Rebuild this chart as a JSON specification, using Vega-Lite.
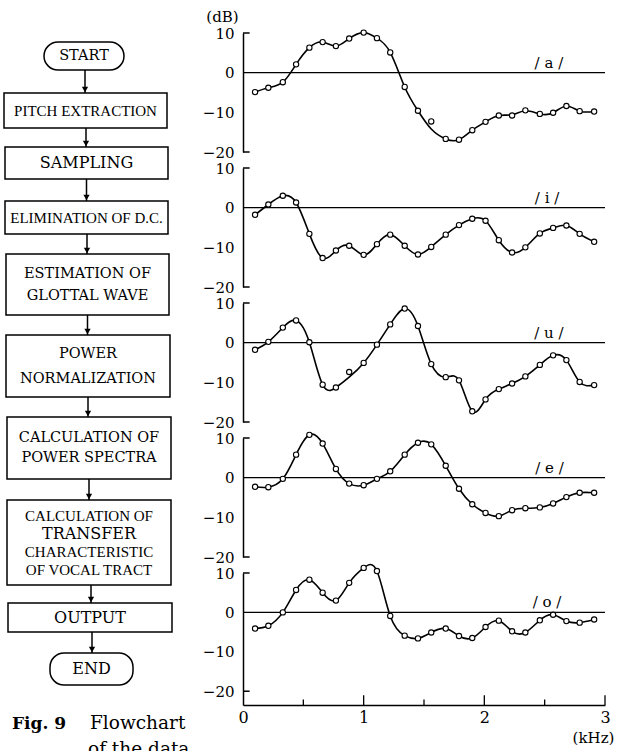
{
 "$schema": "https://vega.github.io/schema/vega-lite/v6.json",
 "padding": {"top": 9, "left": 0, "right": 0, "bottom": 0},
 "spacing": 2,
 "background": "white",
 "config": {
  "view": {"stroke": null},
  "axis": {"domainColor": "black", "domainWidth": 1.5, "ticks": false, "grid": false, "labelColor": "black", "labelFont": "DejaVu Serif", "labelFontSize": 15, "labelPadding": 9, "labelOverlap": false, "titleFontWeight": "normal", "titleColor": "black", "titleFont": "DejaVu Serif"}
 },
 "datasets": {
  "spec": [
   {"v":"a","f":0.10,"db":-4.9,"fit":-4.9},{"v":"a","f":0.21,"db":-3.8,"fit":-3.8},{"v":"a","f":0.33,"db":-2.4,"fit":-2.4},{"v":"a","f":0.44,"db":2.1,"fit":2.1},{"v":"a","f":0.55,"db":6.3,"fit":6.3},{"v":"a","f":0.66,"db":7.7,"fit":7.7},{"v":"a","f":0.77,"db":6.7,"fit":6.7},{"v":"a","f":0.88,"db":8.6,"fit":8.6},{"v":"a","f":1.00,"db":10.1,"fit":10.1},{"v":"a","f":1.11,"db":8.7,"fit":8.7},{"v":"a","f":1.22,"db":5.1,"fit":5.1},{"v":"a","f":1.34,"db":-3.6,"fit":-3.6},{"v":"a","f":1.45,"db":-9.6,"fit":-9.6},{"v":"a","f":1.56,"db":-12.3,"fit":-14.2},{"v":"a","f":1.68,"db":-16.7,"fit":-16.7},{"v":"a","f":1.79,"db":-16.9,"fit":-16.9},{"v":"a","f":1.90,"db":-14.5,"fit":-14.5},{"v":"a","f":2.01,"db":-12.4,"fit":-12.4},{"v":"a","f":2.12,"db":-10.8,"fit":-10.8},{"v":"a","f":2.23,"db":-10.8,"fit":-10.6},{"v":"a","f":2.34,"db":-9.5,"fit":-9.6},{"v":"a","f":2.46,"db":-10.4,"fit":-10.4},{"v":"a","f":2.57,"db":-10.1,"fit":-10.1},{"v":"a","f":2.68,"db":-8.4,"fit":-8.4},{"v":"a","f":2.79,"db":-9.7,"fit":-9.7},{"v":"a","f":2.91,"db":-9.8,"fit":-9.8},
   {"v":"i","f":0.10,"db":-1.8,"fit":-1.8},{"v":"i","f":0.21,"db":0.8,"fit":0.8},{"v":"i","f":0.33,"db":3.0,"fit":3.0},{"v":"i","f":0.44,"db":1.3,"fit":1.3},{"v":"i","f":0.55,"db":-6.6,"fit":-6.6},{"v":"i","f":0.66,"db":-12.7,"fit":-12.7},{"v":"i","f":0.77,"db":-10.8,"fit":-10.8},{"v":"i","f":0.88,"db":-9.6,"fit":-9.6},{"v":"i","f":1.00,"db":-11.9,"fit":-11.9},{"v":"i","f":1.11,"db":-9.2,"fit":-9.2},{"v":"i","f":1.22,"db":-6.8,"fit":-6.8},{"v":"i","f":1.34,"db":-9.6,"fit":-9.6},{"v":"i","f":1.45,"db":-11.8,"fit":-11.8},{"v":"i","f":1.56,"db":-9.9,"fit":-9.9},{"v":"i","f":1.68,"db":-6.8,"fit":-6.8},{"v":"i","f":1.79,"db":-4.4,"fit":-4.4},{"v":"i","f":1.90,"db":-2.8,"fit":-2.8},{"v":"i","f":2.01,"db":-3.3,"fit":-3.3},{"v":"i","f":2.12,"db":-8.2,"fit":-8.2},{"v":"i","f":2.23,"db":-11.3,"fit":-11.3},{"v":"i","f":2.34,"db":-10.0,"fit":-10.0},{"v":"i","f":2.46,"db":-6.5,"fit":-6.5},{"v":"i","f":2.57,"db":-5.1,"fit":-5.1},{"v":"i","f":2.68,"db":-4.5,"fit":-4.5},{"v":"i","f":2.79,"db":-6.6,"fit":-6.6},{"v":"i","f":2.91,"db":-8.6,"fit":-8.6},
   {"v":"u","f":0.10,"db":-1.8,"fit":-1.8},{"v":"u","f":0.21,"db":0.2,"fit":0.2},{"v":"u","f":0.33,"db":3.8,"fit":3.8},{"v":"u","f":0.44,"db":5.6,"fit":5.6},{"v":"u","f":0.55,"db":0.1,"fit":0.1},{"v":"u","f":0.66,"db":-10.6,"fit":-10.6},{"v":"u","f":0.77,"db":-11.3,"fit":-11.3},{"v":"u","f":0.88,"db":-7.4,"fit":-8.7},{"v":"u","f":1.00,"db":-5.1,"fit":-5.1},{"v":"u","f":1.11,"db":-0.5,"fit":-0.5},{"v":"u","f":1.22,"db":4.6,"fit":4.6},{"v":"u","f":1.34,"db":8.6,"fit":8.6},{"v":"u","f":1.45,"db":4.2,"fit":4.2},{"v":"u","f":1.56,"db":-5.4,"fit":-5.4},{"v":"u","f":1.68,"db":-8.7,"fit":-8.7},{"v":"u","f":1.79,"db":-9.5,"fit":-9.5},{"v":"u","f":1.90,"db":-17.3,"fit":-17.3},{"v":"u","f":2.01,"db":-14.3,"fit":-14.3},{"v":"u","f":2.12,"db":-11.7,"fit":-11.7},{"v":"u","f":2.23,"db":-10.3,"fit":-10.3},{"v":"u","f":2.34,"db":-8.5,"fit":-8.5},{"v":"u","f":2.46,"db":-5.6,"fit":-5.6},{"v":"u","f":2.57,"db":-3.2,"fit":-3.2},{"v":"u","f":2.68,"db":-4.4,"fit":-4.4},{"v":"u","f":2.79,"db":-9.9,"fit":-9.9},{"v":"u","f":2.91,"db":-10.7,"fit":-10.7},
   {"v":"e","f":0.10,"db":-2.3,"fit":-2.3},{"v":"e","f":0.21,"db":-2.4,"fit":-2.4},{"v":"e","f":0.33,"db":-0.3,"fit":-0.3},{"v":"e","f":0.44,"db":5.8,"fit":5.8},{"v":"e","f":0.55,"db":10.8,"fit":10.8},{"v":"e","f":0.66,"db":8.6,"fit":8.6},{"v":"e","f":0.77,"db":2.2,"fit":2.2},{"v":"e","f":0.88,"db":-1.5,"fit":-1.5},{"v":"e","f":1.00,"db":-1.9,"fit":-1.9},{"v":"e","f":1.11,"db":-0.3,"fit":-0.3},{"v":"e","f":1.22,"db":1.6,"fit":1.6},{"v":"e","f":1.34,"db":5.8,"fit":5.8},{"v":"e","f":1.45,"db":8.8,"fit":8.8},{"v":"e","f":1.56,"db":8.4,"fit":8.4},{"v":"e","f":1.68,"db":3.0,"fit":3.0},{"v":"e","f":1.79,"db":-2.8,"fit":-2.8},{"v":"e","f":1.90,"db":-6.7,"fit":-6.7},{"v":"e","f":2.01,"db":-8.9,"fit":-8.9},{"v":"e","f":2.12,"db":-9.7,"fit":-9.7},{"v":"e","f":2.23,"db":-8.2,"fit":-8.2},{"v":"e","f":2.34,"db":-7.7,"fit":-7.7},{"v":"e","f":2.46,"db":-7.5,"fit":-7.5},{"v":"e","f":2.57,"db":-6.5,"fit":-6.5},{"v":"e","f":2.68,"db":-4.9,"fit":-4.9},{"v":"e","f":2.79,"db":-3.8,"fit":-3.8},{"v":"e","f":2.91,"db":-3.8,"fit":-3.8},
   {"v":"o","f":0.10,"db":-4.1,"fit":-4.1},{"v":"o","f":0.21,"db":-3.4,"fit":-3.4},{"v":"o","f":0.33,"db":0.0,"fit":0.0},{"v":"o","f":0.44,"db":5.7,"fit":5.7},{"v":"o","f":0.55,"db":8.3,"fit":8.3},{"v":"o","f":0.66,"db":5.0,"fit":5.0},{"v":"o","f":0.77,"db":3.0,"fit":3.0},{"v":"o","f":0.88,"db":7.5,"fit":7.5},{"v":"o","f":1.00,"db":11.3,"fit":11.3},{"v":"o","f":1.11,"db":10.5,"fit":10.5},{"v":"o","f":1.22,"db":-0.9,"fit":-0.9},{"v":"o","f":1.34,"db":-5.9,"fit":-5.9},{"v":"o","f":1.45,"db":-6.6,"fit":-6.6},{"v":"o","f":1.56,"db":-5.1,"fit":-5.1},{"v":"o","f":1.68,"db":-4.1,"fit":-4.1},{"v":"o","f":1.79,"db":-6.0,"fit":-6.0},{"v":"o","f":1.90,"db":-6.5,"fit":-6.5},{"v":"o","f":2.01,"db":-3.7,"fit":-3.7},{"v":"o","f":2.12,"db":-2.1,"fit":-2.1},{"v":"o","f":2.23,"db":-4.8,"fit":-4.8},{"v":"o","f":2.34,"db":-5.1,"fit":-5.1},{"v":"o","f":2.46,"db":-2.0,"fit":-2.0},{"v":"o","f":2.57,"db":-0.6,"fit":-0.6},{"v":"o","f":2.68,"db":-2.2,"fit":-2.2},{"v":"o","f":2.79,"db":-2.6,"fit":-2.6},{"v":"o","f":2.91,"db":-1.8,"fit":-1.8}
  ],
  "boxes": [
   {"kind":"terminal","x1":44,"x2":124,"y1":40,"y2":68},
   {"kind":"process","x1":4,"x2":167,"y1":91,"y2":126},
   {"kind":"process","x1":5,"x2":168,"y1":145,"y2":177},
   {"kind":"process","x1":5,"x2":168,"y1":199,"y2":232},
   {"kind":"process","x1":6,"x2":169,"y1":252,"y2":313},
   {"kind":"process","x1":6,"x2":170,"y1":333,"y2":395},
   {"kind":"process","x1":7,"x2":171,"y1":415,"y2":477},
   {"kind":"process","x1":7,"x2":171,"y1":498,"y2":583},
   {"kind":"process","x1":8,"x2":172,"y1":601,"y2":630},
   {"kind":"terminal","x1":50,"x2":133,"y1":651,"y2":683}
  ],
  "arrows": [
   {"x":85,"y1":68,"y2":91},{"x":86,"y1":126,"y2":145},{"x":86.5,"y1":177,"y2":199},{"x":87,"y1":232,"y2":252},{"x":87.5,"y1":313,"y2":333},{"x":88,"y1":395,"y2":415},{"x":89,"y1":477,"y2":498},{"x":91,"y1":583,"y2":601},{"x":92,"y1":630,"y2":651}
  ],
  "lines": [
   {"t":"START","box":1,"x":84,"y":54},
   {"t":"PITCH EXTRACTION","box":2,"x":85.5,"y":108.5},
   {"t":"SAMPLING","box":3,"x":86.5,"y":161},
   {"t":"ELIMINATION OF D.C.","box":4,"x":86.5,"y":216},
   {"t":"ESTIMATION OF","box":5,"x":87.5,"y":272},
   {"t":"GLOTTAL WAVE","box":5,"x":87.5,"y":294},
   {"t":"POWER","box":6,"x":88,"y":352},
   {"t":"NORMALIZATION","box":6,"x":88,"y":377},
   {"t":"CALCULATION OF","box":7,"x":89,"y":436},
   {"t":"POWER SPECTRA","box":7,"x":89,"y":456},
   {"t":"CALCULATION OF","box":8,"x":89,"y":514},
   {"t":"TRANSFER","box":8,"x":89,"y":532},
   {"t":"CHARACTERISTIC","box":8,"x":89,"y":550},
   {"t":"OF VOCAL TRACT","box":8,"x":89,"y":568},
   {"t":"OUTPUT","box":9,"x":90,"y":616},
   {"t":"END","box":10,"x":91.5,"y":667}
  ],
  "caption": [
   {"t":"Fig. 9","x":12,"y":727},
   {"t":"Flowchart","x":90,"y":727},
   {"t":"of the data","x":88,"y":753}
  ]
 },
 "hconcat": [
  {
   "width": 200,
   "height": 751,
   "layer": [
    {"data":{"name":"boxes"},"transform":[{"filter":"datum.kind == 'process'"}],
     "mark":{"type":"rect","fill":"white","stroke":"black","strokeWidth":1.5},
     "encoding":{"x":{"field":"x1","type":"quantitative","scale":{"domain":[0,200],"nice":false,"zero":false},"axis":null},"x2":{"field":"x2"},
                 "y":{"field":"y1","type":"quantitative","scale":{"domain":[31,782],"reverse":true,"nice":false,"zero":false},"axis":null},"y2":{"field":"y2"}}},
    {"data":{"name":"boxes"},"transform":[{"filter":"datum.kind == 'terminal'"}],
     "mark":{"type":"rect","fill":"white","stroke":"black","strokeWidth":1.5,"cornerRadius":14},
     "encoding":{"x":{"field":"x1","type":"quantitative","axis":null},"x2":{"field":"x2"},
                 "y":{"field":"y1","type":"quantitative","axis":null},"y2":{"field":"y2"}}},
    {"data":{"name":"arrows"},
     "mark":{"type":"rule","color":"black","strokeWidth":1.5},
     "encoding":{"x":{"field":"x","type":"quantitative","axis":null},
                 "y":{"field":"y1","type":"quantitative","axis":null},"y2":{"field":"y2"}}},
    {"data":{"name":"arrows"},
     "mark":{"type":"point","shape":"triangle-down","filled":true,"color":"black","opacity":1,"size":40,"yOffset":-3.5},
     "encoding":{"x":{"field":"x","type":"quantitative","axis":null},
                 "y":{"field":"y2","type":"quantitative","axis":null}}},
    {"data":{"name":"lines"},"transform":[{"filter":"datum.box == 2 || datum.box == 4 || (datum.box == 8 && datum.t != 'TRANSFER')"}],
     "mark":{"type":"text","font":"Liberation Serif","fontSize":15,"color":"black","align":"center","baseline":"middle"},
     "encoding":{"x":{"field":"x","type":"quantitative","axis":null},
                 "y":{"field":"y","type":"quantitative","axis":null},"text":{"field":"t"}}},
    {"data":{"name":"lines"},"transform":[{"filter":"datum.t == 'SAMPLING' || datum.t == 'TRANSFER' || datum.t == 'OUTPUT' || datum.t == 'END'"}],
     "mark":{"type":"text","font":"DejaVu Serif","fontSize":16,"color":"black","align":"center","baseline":"middle"},
     "encoding":{"x":{"field":"x","type":"quantitative","axis":null},
                 "y":{"field":"y","type":"quantitative","axis":null},"text":{"field":"t"}}},
    {"data":{"name":"lines"},"transform":[{"filter":"!(datum.box == 2 || datum.box == 4 || (datum.box == 8 && datum.t != 'TRANSFER')) && !(datum.t == 'SAMPLING' || datum.t == 'TRANSFER' || datum.t == 'OUTPUT' || datum.t == 'END')"}],
     "mark":{"type":"text","font":"DejaVu Serif","fontSize":14.5,"color":"black","align":"center","baseline":"middle"},
     "encoding":{"x":{"field":"x","type":"quantitative","axis":null},
                 "y":{"field":"y","type":"quantitative","axis":null},"text":{"field":"t"}}},
    {"data":{"name":"caption"},"transform":[{"filter":"datum.t == 'Fig. 9'"}],
     "mark":{"type":"text","font":"DejaVu Serif","fontSize":17,"fontWeight":"bold","color":"black","align":"left","baseline":"alphabetic"},
     "encoding":{"x":{"field":"x","type":"quantitative","axis":null},
                 "y":{"field":"y","type":"quantitative","axis":null},"text":{"field":"t"}}},
    {"data":{"name":"caption"},"transform":[{"filter":"datum.t != 'Fig. 9'"}],
     "mark":{"type":"text","font":"DejaVu Serif","fontSize":18.5,"color":"black","align":"left","baseline":"alphabetic"},
     "encoding":{"x":{"field":"x","type":"quantitative","axis":null},
                 "y":{"field":"y","type":"quantitative","axis":null},"text":{"field":"t"}}}
   ]
  },
  {
   "spacing": 16,
   "bounds": "flush",
   "vconcat": [
    {"width":362,"height":119,
     "layer":[
      {"data":{"name":"spec"},"transform":[{"filter":"datum.v == 'a'"}],"mark":{"type":"line","interpolate":"natural","color":"black","strokeWidth":1.6},
       "encoding":{"x":{"field":"f","type":"quantitative","scale":{"domain":[0,3],"nice":false,"zero":false},"axis":null},
                   "y":{"field":"fit","type":"quantitative","scale":{"domain":[-20,10],"nice":false,"zero":false},"axis":{"values":[-20,-10,0,10],"tickCount":6,"labelOverlap":false,"title":"(dB)","titleAngle":0,"titleX":-21,"titleY":-17,"titleAlign":"center","titleBaseline":"middle","titleFontSize":15}}}},
      {"data":{"values":[{}]},"mark":{"type":"rule","color":"black","strokeWidth":1.1},"encoding":{"y":{"datum":0,"type":"quantitative"}}},
      {"data":{"values":[{"y":10},{"y":-20}]},"mark":{"type":"rule","color":"black","strokeWidth":1.5},"encoding":{"x":{"datum":0,"type":"quantitative","axis":null},"x2":{"datum":0.055},"y":{"field":"y","type":"quantitative"}}},
      {"data":{"name":"spec"},"transform":[{"filter":"datum.v == 'a'"}],"mark":{"type":"point","shape":"circle","filled":true,"fill":"white","stroke":"black","strokeWidth":1.1,"size":28,"opacity":1},
       "encoding":{"x":{"field":"f","type":"quantitative","axis":null},"y":{"field":"db","type":"quantitative"}}},
      {"data":{"values":[{}]},"mark":{"type":"text","text":"/ a /","font":"DejaVu Serif","fontSize":15,"color":"black","align":"center","baseline":"alphabetic"},
       "encoding":{"x":{"datum":2.535,"type":"quantitative","axis":null},"y":{"datum":1.3,"type":"quantitative"}}}
     ]},
    {"width":362,"height":119,
     "layer":[
      {"data":{"name":"spec"},"transform":[{"filter":"datum.v == 'i'"}],"mark":{"type":"line","interpolate":"natural","color":"black","strokeWidth":1.6},
       "encoding":{"x":{"field":"f","type":"quantitative","scale":{"domain":[0,3],"nice":false,"zero":false},"axis":null},
                   "y":{"field":"fit","type":"quantitative","scale":{"domain":[-20,10],"nice":false,"zero":false},"axis":{"values":[-20,-10,0,10],"tickCount":6,"labelOverlap":false,"title":null}}}},
      {"data":{"values":[{}]},"mark":{"type":"rule","color":"black","strokeWidth":1.1},"encoding":{"y":{"datum":0,"type":"quantitative"}}},
      {"data":{"values":[{"y":10},{"y":-20}]},"mark":{"type":"rule","color":"black","strokeWidth":1.5},"encoding":{"x":{"datum":0,"type":"quantitative","axis":null},"x2":{"datum":0.055},"y":{"field":"y","type":"quantitative"}}},
      {"data":{"name":"spec"},"transform":[{"filter":"datum.v == 'i'"}],"mark":{"type":"point","shape":"circle","filled":true,"fill":"white","stroke":"black","strokeWidth":1.1,"size":28,"opacity":1},
       "encoding":{"x":{"field":"f","type":"quantitative","axis":null},"y":{"field":"db","type":"quantitative"}}},
      {"data":{"values":[{}]},"mark":{"type":"text","text":"/ i /","font":"DejaVu Serif","fontSize":15,"color":"black","align":"center","baseline":"alphabetic"},
       "encoding":{"x":{"datum":2.52,"type":"quantitative","axis":null},"y":{"datum":1.3,"type":"quantitative"}}}
     ]},
    {"width":362,"height":119,
     "layer":[
      {"data":{"name":"spec"},"transform":[{"filter":"datum.v == 'u'"}],"mark":{"type":"line","interpolate":"natural","color":"black","strokeWidth":1.6},
       "encoding":{"x":{"field":"f","type":"quantitative","scale":{"domain":[0,3],"nice":false,"zero":false},"axis":null},
                   "y":{"field":"fit","type":"quantitative","scale":{"domain":[-20,10],"nice":false,"zero":false},"axis":{"values":[-20,-10,0,10],"tickCount":6,"labelOverlap":false,"title":null}}}},
      {"data":{"values":[{}]},"mark":{"type":"rule","color":"black","strokeWidth":1.1},"encoding":{"y":{"datum":0,"type":"quantitative"}}},
      {"data":{"values":[{"y":10},{"y":-20}]},"mark":{"type":"rule","color":"black","strokeWidth":1.5},"encoding":{"x":{"datum":0,"type":"quantitative","axis":null},"x2":{"datum":0.055},"y":{"field":"y","type":"quantitative"}}},
      {"data":{"name":"spec"},"transform":[{"filter":"datum.v == 'u'"}],"mark":{"type":"point","shape":"circle","filled":true,"fill":"white","stroke":"black","strokeWidth":1.1,"size":28,"opacity":1},
       "encoding":{"x":{"field":"f","type":"quantitative","axis":null},"y":{"field":"db","type":"quantitative"}}},
      {"data":{"values":[{}]},"mark":{"type":"text","text":"/ u /","font":"DejaVu Serif","fontSize":15,"color":"black","align":"center","baseline":"alphabetic"},
       "encoding":{"x":{"datum":2.535,"type":"quantitative","axis":null},"y":{"datum":1.3,"type":"quantitative"}}}
     ]},
    {"width":362,"height":119,
     "layer":[
      {"data":{"name":"spec"},"transform":[{"filter":"datum.v == 'e'"}],"mark":{"type":"line","interpolate":"natural","color":"black","strokeWidth":1.6},
       "encoding":{"x":{"field":"f","type":"quantitative","scale":{"domain":[0,3],"nice":false,"zero":false},"axis":null},
                   "y":{"field":"fit","type":"quantitative","scale":{"domain":[-20,10],"nice":false,"zero":false},"axis":{"values":[-20,-10,0,10],"tickCount":6,"labelOverlap":false,"title":null}}}},
      {"data":{"values":[{}]},"mark":{"type":"rule","color":"black","strokeWidth":1.1},"encoding":{"y":{"datum":0,"type":"quantitative"}}},
      {"data":{"values":[{"y":10},{"y":-20}]},"mark":{"type":"rule","color":"black","strokeWidth":1.5},"encoding":{"x":{"datum":0,"type":"quantitative","axis":null},"x2":{"datum":0.055},"y":{"field":"y","type":"quantitative"}}},
      {"data":{"name":"spec"},"transform":[{"filter":"datum.v == 'e'"}],"mark":{"type":"point","shape":"circle","filled":true,"fill":"white","stroke":"black","strokeWidth":1.1,"size":28,"opacity":1},
       "encoding":{"x":{"field":"f","type":"quantitative","axis":null},"y":{"field":"db","type":"quantitative"}}},
      {"data":{"values":[{}]},"mark":{"type":"text","text":"/ e /","font":"DejaVu Serif","fontSize":15,"color":"black","align":"center","baseline":"alphabetic"},
       "encoding":{"x":{"datum":2.54,"type":"quantitative","axis":null},"y":{"datum":1.3,"type":"quantitative"}}}
     ]},
    {"width":362,"height":132,
     "layer":[
      {"data":{"name":"spec"},"transform":[{"filter":"datum.v == 'o'"}],"mark":{"type":"line","interpolate":"natural","color":"black","strokeWidth":1.6},
       "encoding":{"x":{"field":"f","type":"quantitative","scale":{"domain":[0,3],"nice":false,"zero":false},"axis":{"values":[0,1,2,3],"tickCount":6,"format":"d","labelOverlap":false,"title":"(kHz)","labelFlush":false,"labelPadding":4,"labelFontSize":16,"titleX":350,"titleY":32,"titleAlign":"center","titleBaseline":"middle","titleFontSize":15}},
                   "y":{"field":"fit","type":"quantitative","scale":{"domain":[-23.5,10],"nice":false,"zero":false},"axis":{"values":[-20,-10,0,10],"tickCount":6,"labelOverlap":false,"title":null}}}},
      {"data":{"values":[{}]},"mark":{"type":"rule","color":"black","strokeWidth":1.1},"encoding":{"y":{"datum":0,"type":"quantitative"}}},
      {"data":{"values":[{"y":10},{"y":-20}]},"mark":{"type":"rule","color":"black","strokeWidth":1.5},"encoding":{"x":{"datum":0,"type":"quantitative"},"x2":{"datum":0.055},"y":{"field":"y","type":"quantitative"}}},
      {"data":{"values":[{"t":0.5},{"t":1.5},{"t":2.5}]},"mark":{"type":"rule","color":"black","strokeWidth":1.3},"encoding":{"x":{"field":"t","type":"quantitative"},"y":{"datum":-23.5,"type":"quantitative"},"y2":{"datum":-22.1}}},
      {"data":{"values":[{"t":1},{"t":2},{"t":3}]},"mark":{"type":"rule","color":"black","strokeWidth":1.3},"encoding":{"x":{"field":"t","type":"quantitative"},"y":{"datum":-23.5,"type":"quantitative"},"y2":{"datum":-21}}},
      {"data":{"name":"spec"},"transform":[{"filter":"datum.v == 'o'"}],"mark":{"type":"point","shape":"circle","filled":true,"fill":"white","stroke":"black","strokeWidth":1.1,"size":28,"opacity":1},
       "encoding":{"x":{"field":"f","type":"quantitative"},"y":{"field":"db","type":"quantitative"}}},
      {"data":{"values":[{}]},"mark":{"type":"text","text":"/ o /","font":"DejaVu Serif","fontSize":15,"color":"black","align":"center","baseline":"alphabetic"},
       "encoding":{"x":{"datum":2.52,"type":"quantitative"},"y":{"datum":1.3,"type":"quantitative"}}}
     ]}
   ]
  }
 ]
}
